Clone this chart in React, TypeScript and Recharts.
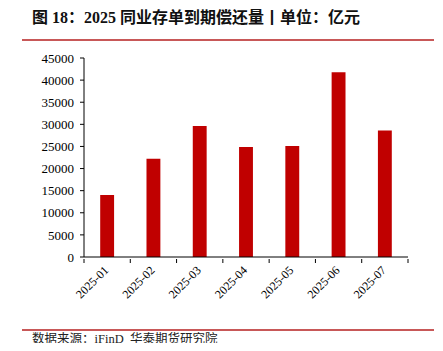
import { BarChart, Bar, XAxis, YAxis } from 'recharts'

const months = ['2025-01', '2025-02', '2025-03', '2025-04', '2025-05', '2025-06', '2025-07']
const maturity = [14000, 22200, 29600, 24900, 25100, 41800, 28600]
const yTicks = [0, 5000, 10000, 15000, 20000, 25000, 30000, 35000, 40000, 45000]

const data = months.map((m, i) => ({ name: m, value: maturity[i] }))

const serif = '"Liberation Serif", "Times New Roman", "Noto Sans CJK SC", serif'
const BAND = 324 / months.length
const RULE = '#c85858'

function MonthTick(props: any) {
  const { x, y, payload, index } = props
  return (
    <g>
      <line x1={x - BAND / 2} y1={y - 6} x2={x - BAND / 2} y2={y - 2} stroke="#000" />
      {index === months.length - 1 && (
        <line x1={x + BAND / 2} y1={y - 6} x2={x + BAND / 2} y2={y - 2} stroke="#000" />
      )}
      <text
        x={x + 2}
        y={y + 6}
        textAnchor="end"
        fontSize={12}
        fontFamily={serif}
        fill="#000"
        transform={`rotate(-45, ${x + 2}, ${y + 6})`}
      >
        {payload.value}
      </text>
    </g>
  )
}

export default function App() {
  return (
    <div style={{ position: 'relative', width: 443, height: 351, margin: -8, background: '#fff', overflow: 'hidden' }}>
      <div
        style={{
          position: 'absolute',
          left: 32,
          top: 6,
          fontSize: 16,
          lineHeight: '23px',
          fontWeight: 'bold',
          fontFamily: serif,
          color: '#111',
          whiteSpace: 'nowrap',
        }}
      >
        图 18：2025 同业存单到期偿还量丨单位：亿元
      </div>
      <div style={{ position: 'absolute', left: 0, top: 39, width: 3, height: 1.5, background: RULE }} />
      <div style={{ position: 'absolute', left: 22, top: 39, width: 412, height: 1.5, background: RULE }} />
      <div style={{ position: 'absolute', left: 0, top: 329, width: 3, height: 1.5, background: RULE }} />
      <div style={{ position: 'absolute', left: 22, top: 329, width: 412, height: 1.5, background: RULE }} />
      <div
        style={{
          position: 'absolute',
          left: 32,
          top: 331,
          fontSize: 12.5,
          lineHeight: '16px',
          fontFamily: serif,
          color: '#222',
          whiteSpace: 'nowrap',
        }}
      >
        数据来源：iFinD&nbsp;&nbsp;华泰期货研究院
      </div>
      <div style={{ position: 'absolute', left: 0, top: 0 }}>
        <BarChart
          width={443}
          height={351}
          data={data}
          margin={{ top: 58, right: 35, bottom: 34, left: 0 }}
          barCategoryGap="65%"
        >
          <XAxis
            dataKey="name"
            height={60}
            axisLine={{ stroke: '#000' }}
            tickLine={false}
            tick={<MonthTick />}
            interval={0}
          />
          <YAxis
            width={84}
            domain={[0, 45000]}
            ticks={yTicks}
            interval={0}
            axisLine={{ stroke: '#000' }}
            tickLine={{ stroke: '#000' }}
            tickSize={4}
            tickMargin={6}
            tick={{ fontSize: 13, fontFamily: serif, fill: '#000' }}
          />
          <Bar dataKey="value" fill="#c00000" isAnimationActive={false} />
        </BarChart>
      </div>
    </div>
  )
}
